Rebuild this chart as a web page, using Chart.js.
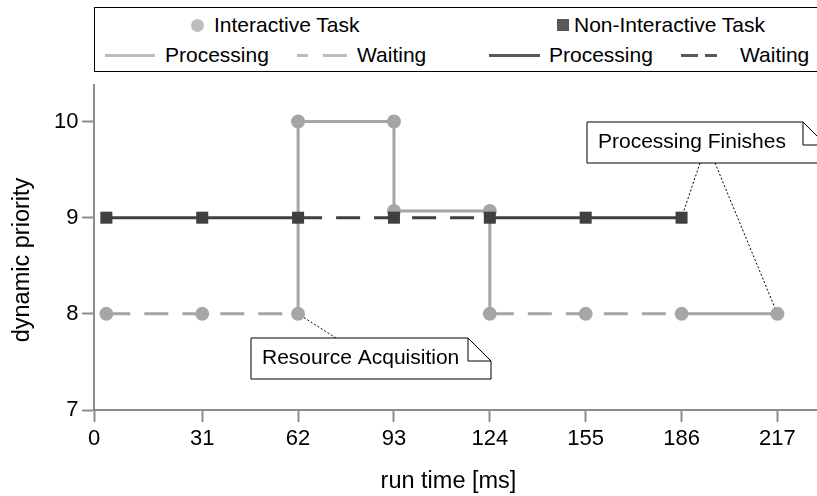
<!DOCTYPE html>
<html>
<head>
<meta charset="utf-8">
<title>Dynamic priority over run time</title>
<script src="https://cdn.jsdelivr.net/npm/chart.js@4/dist/chart.umd.min.js"></script>
<style>
  html, body { margin: 0; padding: 0; background: #fff; }
  #wrap { position: relative; width: 817px; height: 496px; overflow: hidden;
          font-family: "Liberation Sans", Arial, sans-serif; }
  #chart { position: absolute; left: 0; top: 0; }
  #legendBox { position: absolute; left: 94px; top: 7px; width: 740px; height: 63px;
               border: 1.5px solid #000; background: #fff; }
  .lg { position: absolute; font-size: 21px; line-height: 24px; color: #000; white-space: nowrap; }
  .sw { position: absolute; }
</style>
</head>
<body>
<div id="wrap">
  <canvas id="chart" width="817" height="496"></canvas>
  <div id="legendBox"></div>
  <!-- legend row 1: task markers -->
  <div class="sw" style="left:190.5px;top:18.5px;width:13px;height:13px;border-radius:50%;background:#bdbdbd"></div>
  <div class="lg" style="left:214px;top:13px">Interactive Task</div>
  <div class="sw" style="left:557px;top:19px;width:12px;height:12px;background:#595959"></div>
  <div class="lg" style="left:574px;top:13px">Non-Interactive Task</div>
  <!-- legend row 2: line styles -->
  <div class="sw" style="left:105px;top:53.5px;width:50px;height:3px;background:#bdbdbd"></div>
  <div class="lg" style="left:165px;top:43px">Processing</div>
  <div class="sw" style="left:297px;top:53.5px;width:11px;height:3px;background:#bdbdbd"></div>
  <div class="sw" style="left:323px;top:53.5px;width:24px;height:3px;background:#bdbdbd"></div>
  <div class="lg" style="left:357px;top:43px">Waiting</div>
  <div class="sw" style="left:489px;top:53.5px;width:51px;height:3px;background:#595959"></div>
  <div class="lg" style="left:549px;top:43px">Processing</div>
  <div class="sw" style="left:681px;top:53.5px;width:17px;height:3px;background:#595959"></div>
  <div class="sw" style="left:705px;top:53.5px;width:12px;height:3px;background:#595959"></div>
  <div class="lg" style="left:740px;top:43px">Waiting</div>
</div>
<script>
// ---- data -------------------------------------------------------------
const xTickLabels = ['0', '31', '62', '93', '124', '155', '186', '217'];
const xTickValues = [0, 31, 62, 93, 124, 155, 186, 217];
const yTickValues = [7, 8, 9, 10];

// interactive task: run time [ms] and dynamic priority at each sample
const interactiveTime     = [0, 31, 62, 62, 93, 93, 124, 124, 155, 186, 217];
const interactivePriority = [8, 8, 8, 10, 10, 9.07, 9.07, 8, 8, 8, 8];
// state between consecutive samples
const interactivePhase = ['waiting', 'waiting', 'processing', 'processing', 'processing',
                          'processing', 'processing', 'waiting', 'waiting', 'processing'];

// non-interactive task
const nonInteractiveTime     = [0, 31, 62, 93, 124, 155, 186];
const nonInteractivePriority = [9, 9, 9, 9, 9, 9, 9];
const nonInteractivePhase = ['processing', 'processing', 'waiting', 'waiting',
                             'processing', 'processing'];

// annotation texts and the samples they point at
const calloutTexts = ['Resource Acquisition', 'Processing Finishes'];
const calloutTargets = [
  [{ series: 'interactive', index: 2 }],
  [{ series: 'nonInteractive', index: 6 }, { series: 'interactive', index: 10 }]
];

// ---- styling -----------------------------------------------------------
const LIGHT = '#a6a6a6';
const DARK = '#404040';
const AXIS = '#8c8c8c';
const FONT = '"Liberation Sans", Arial, sans-serif';
const DASH = [24, 14];

// callout box geometry (pixels) and leader start points on the box edge
const calloutLayout = [
  { x: 251, y: 338, w: 240, h: 41, fold: 23, leaders: [[336, 338]] },
  { x: 587, y: 122, w: 239, h: 41, fold: 23, leaders: [[700, 163], [715, 163]] }
];

const points = (xs, ys) => xs.map((x, i) => ({ x, y: ys[i] }));

const calloutLeaders = {
  id: 'calloutLeaders',
  beforeDatasetsDraw(chart) {
    const { ctx, scales: { x, y } } = chart;
    const series = {
      interactive: [interactiveTime, interactivePriority],
      nonInteractive: [nonInteractiveTime, nonInteractivePriority]
    };
    ctx.save();
    ctx.strokeStyle = '#000';
    ctx.lineWidth = 1;
    ctx.setLineDash([2, 2]);
    calloutTargets.forEach((targets, c) => {
      targets.forEach((t, k) => {
        const [xs, ys] = series[t.series];
        const [sx, sy] = calloutLayout[c].leaders[k];
        ctx.beginPath();
        ctx.moveTo(sx, sy);
        ctx.lineTo(x.getPixelForValue(xs[t.index]), y.getPixelForValue(ys[t.index]));
        ctx.stroke();
      });
    });
    ctx.restore();
  },
  afterDatasetsDraw(chart) {
    const { ctx } = chart;
    ctx.save();
    calloutTexts.forEach((text, c) => {
      const b = calloutLayout[c];
      const r = b.x + b.w, f = b.fold;
      ctx.beginPath();
      ctx.moveTo(b.x, b.y);
      ctx.lineTo(r - f, b.y);
      ctx.lineTo(r, b.y + f);
      ctx.lineTo(r, b.y + b.h);
      ctx.lineTo(b.x, b.y + b.h);
      ctx.closePath();
      ctx.fillStyle = '#fff';
      ctx.fill();
      ctx.strokeStyle = '#000';
      ctx.lineWidth = 1;
      ctx.setLineDash([]);
      ctx.stroke();
      ctx.beginPath();
      ctx.moveTo(r - f, b.y);
      ctx.lineTo(r - f, b.y + f);
      ctx.lineTo(r, b.y + f);
      ctx.stroke();
      ctx.fillStyle = '#000';
      ctx.font = '21px ' + FONT;
      ctx.textAlign = 'left';
      ctx.textBaseline = 'middle';
      ctx.fillText(text, b.x + 11, b.y + b.h / 2);
    });
    ctx.restore();
  }
};

const axisTitles = {
  id: 'axisTitles',
  afterDraw(chart) {
    const { ctx } = chart;
    ctx.save();
    ctx.fillStyle = '#000';
    ctx.font = '23.5px ' + FONT;
    ctx.textAlign = 'center';
    ctx.textBaseline = 'middle';
    ctx.fillText('run time [ms]', 448.5, 482);
    ctx.translate(22.5, 260);
    ctx.rotate(-Math.PI / 2);
    ctx.fillText('dynamic priority', 0, 0);
    ctx.restore();
  }
};

const axisCommon = {
  grid: { drawOnChartArea: false, drawTicks: true, tickLength: 12, tickColor: AXIS, tickWidth: 2 },
  border: { display: true, color: AXIS, width: 2 }
};

new Chart(document.getElementById('chart'), {
  type: 'line',
  data: {
    datasets: [
      {
        label: 'Non-Interactive Task',
        data: points(nonInteractiveTime, nonInteractivePriority),
        borderColor: DARK,
        backgroundColor: DARK,
        borderWidth: 3,
        pointStyle: 'rect',
        pointRadius: 8.5,
        pointBorderWidth: 0,
        pointBackgroundColor: DARK,
        segment: {
          borderDash: c => nonInteractivePhase[c.p0DataIndex] === 'waiting' ? DASH : undefined
        }
      },
      {
        label: 'Interactive Task',
        data: points(interactiveTime, interactivePriority),
        borderColor: LIGHT,
        backgroundColor: LIGHT,
        borderWidth: 3,
        pointStyle: 'circle',
        pointRadius: 7,
        pointBorderWidth: 0,
        pointBackgroundColor: LIGHT,
        segment: {
          borderDash: c => interactivePhase[c.p0DataIndex] === 'waiting' ? DASH : undefined
        }
      }
    ]
  },
  options: {
    responsive: false,
    animation: false,
    events: [],
    devicePixelRatio: 1,
    layout: { autoPadding: false, padding: { top: 85, right: 0, left: 0, bottom: 0 } },
    plugins: { legend: { display: false }, tooltip: { enabled: false } },
    scales: {
      x: {
        type: 'linear',
        min: -4,
        max: 229.8,
        ...axisCommon,
        // the first tick sits on the axis origin
        afterBuildTicks: s => { s.ticks = xTickValues.map((v, i) => ({ value: i === 0 ? s.min : v })); },
        afterFit: s => { s.height = 86; s.paddingLeft = 0; s.paddingRight = 0; },
        ticks: {
          autoSkip: false, maxRotation: 0, padding: 4, color: '#000',
          font: { family: FONT, size: 22 },
          callback: (v, i) => xTickLabels[i]
        }
      },
      y: {
        type: 'linear',
        min: 7,
        max: 10.38,
        ...axisCommon,
        afterBuildTicks: s => { s.ticks = yTickValues.map(v => ({ value: v })); },
        afterFit: s => { s.width = 94; },
        ticks: {
          padding: 3.5, color: '#000',
          font: { family: FONT, size: 22 },
          callback: v => String(v)
        }
      }
    }
  },
  plugins: [calloutLeaders, axisTitles]
});
</script>
</body>
</html>
